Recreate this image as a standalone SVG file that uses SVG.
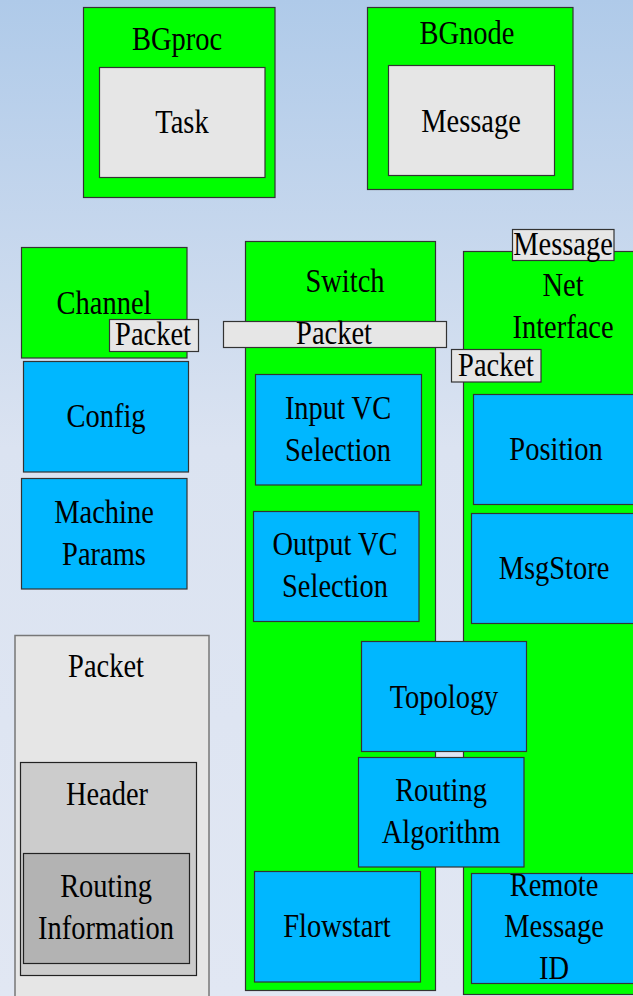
<svg xmlns="http://www.w3.org/2000/svg" width="633" height="996" viewBox="0 0 633 996">
<defs>
<linearGradient id="bg" x1="0" y1="0" x2="0" y2="1">
<stop offset="0" stop-color="#afcae9"/>
<stop offset="0.45" stop-color="#dbe3f1"/>
<stop offset="1" stop-color="#e1e7f3"/>
</linearGradient>
</defs>
<style>
.g{fill:#00ff00;stroke:#333;stroke-width:1.2}
.b{fill:#00b7ff;stroke:#333;stroke-width:1.2}
.l{fill:#e6e6e6;stroke:#333;stroke-width:1.2}
.h{fill:#cccccc;stroke:#222;stroke-width:1.2}
.r{fill:#b3b3b3;stroke:#222;stroke-width:1.2}
.p{fill:#e6e6e6;stroke:#777;stroke-width:1.5}
text{font-family:"Liberation Serif","Times New Roman",serif;font-size:33.5px;fill:#000;text-anchor:middle}
</style>
<rect width="633" height="996" fill="url(#bg)"/>

<g id="bgproc">
<rect class="g" x="83.5" y="7.5" width="191.5" height="190"/>
<text transform="translate(177,50) scale(0.85,1)">BGproc</text>
<rect class="l" x="99.5" y="67.5" width="165.5" height="110"/>
<text transform="translate(182,133) scale(0.85,1)">Task</text>
</g>

<g id="bgnode">
<rect class="g" x="367.5" y="7.5" width="205.5" height="182"/>
<text transform="translate(467,44) scale(0.85,1)">BGnode</text>
<rect class="l" x="388.5" y="65.5" width="166" height="110"/>
<text transform="translate(471,132) scale(0.85,1)">Message</text>
</g>

<g id="channel">
<rect class="g" x="21.5" y="247.5" width="165.5" height="110.5"/>
<text transform="translate(104,314) scale(0.85,1)">Channel</text>
</g>

<g id="config">
<rect class="b" x="23.5" y="361.5" width="165" height="110.5"/>
<text transform="translate(106,427) scale(0.85,1)">Config</text>
</g>

<g id="machine-params">
<rect class="b" x="21.5" y="478.5" width="165.5" height="110.5"/>
<text transform="translate(104,523) scale(0.85,1)">Machine</text>
<text transform="translate(104,565) scale(0.85,1)">Params</text>
</g>

<g id="packet">
<rect class="p" x="15" y="635.5" width="194" height="370"/>
<text transform="translate(106,677) scale(0.85,1)">Packet</text>
<g id="header">
<rect class="h" x="20.5" y="762.5" width="176" height="213"/>
<text transform="translate(107,805) scale(0.85,1)">Header</text>
</g>
<g id="routing-information">
<rect class="r" x="23.5" y="853.5" width="166" height="110"/>
<text transform="translate(106,897) scale(0.85,1)">Routing</text>
<text transform="translate(106,939) scale(0.85,1)">Information</text>
</g>
</g>

<g id="net-interface">
<rect class="g" x="463.5" y="251.5" width="185" height="743"/>
<text transform="translate(563,296) scale(0.85,1)">Net</text>
<text transform="translate(563,338) scale(0.85,1)">Interface</text>
</g>

<g id="switch">
<rect class="g" x="245.5" y="241.5" width="190" height="749"/>
<text transform="translate(345,292) scale(0.85,1)">Switch</text>
</g>

<g id="input-vc">
<rect class="b" x="255.5" y="374.5" width="166" height="110.5"/>
<text transform="translate(338,419) scale(0.85,1)">Input VC</text>
<text transform="translate(338,461) scale(0.85,1)">Selection</text>
</g>

<g id="output-vc">
<rect class="b" x="253.5" y="511.5" width="165.5" height="110"/>
<text transform="translate(335,555) scale(0.85,1)">Output VC</text>
<text transform="translate(335,597) scale(0.85,1)">Selection</text>
</g>

<g id="flowstart">
<rect class="b" x="254.5" y="871.5" width="166" height="110.5"/>
<text transform="translate(337,937) scale(0.85,1)">Flowstart</text>
</g>

<g id="position">
<rect class="b" x="473.5" y="394.5" width="175" height="110"/>
<text transform="translate(556,460) scale(0.85,1)">Position</text>
</g>

<g id="msgstore">
<rect class="b" x="471.5" y="513.5" width="175" height="110"/>
<text transform="translate(554,579) scale(0.85,1)">MsgStore</text>
</g>

<g id="remote-message-id">
<rect class="b" x="471.5" y="873.5" width="175" height="110"/>
<text transform="translate(554,896) scale(0.85,1)">Remote</text>
<text transform="translate(554,937) scale(0.85,1)">Message</text>
<text transform="translate(554,979) scale(0.85,1)">ID</text>
</g>

<g id="topology">
<rect class="b" x="361.5" y="641.5" width="165" height="110"/>
<text transform="translate(444,708) scale(0.85,1)">Topology</text>
</g>

<g id="routing-algorithm">
<rect class="b" x="358.5" y="757.5" width="165.5" height="109.5"/>
<text transform="translate(441,801) scale(0.85,1)">Routing</text>
<text transform="translate(441,843) scale(0.85,1)">Algorithm</text>
</g>

<g id="connectors">
<g id="packet-label-channel">
<rect class="l" x="109.5" y="319.5" width="89" height="32"/>
<text transform="translate(153,345) scale(0.85,1)">Packet</text>
</g>
<g id="packet-label-switch">
<rect class="l" x="223.5" y="321.5" width="223" height="26"/>
<text transform="translate(334,344) scale(0.85,1)">Packet</text>
</g>
<g id="packet-label-ni">
<rect class="l" x="451.5" y="349.5" width="89.5" height="32.5"/>
<text transform="translate(496,376) scale(0.85,1)">Packet</text>
</g>
<g id="message-label-ni">
<rect class="l" x="512.5" y="229.5" width="101.5" height="31"/>
<text transform="translate(563,255) scale(0.85,1)">Message</text>
</g>
</g>
</svg>
